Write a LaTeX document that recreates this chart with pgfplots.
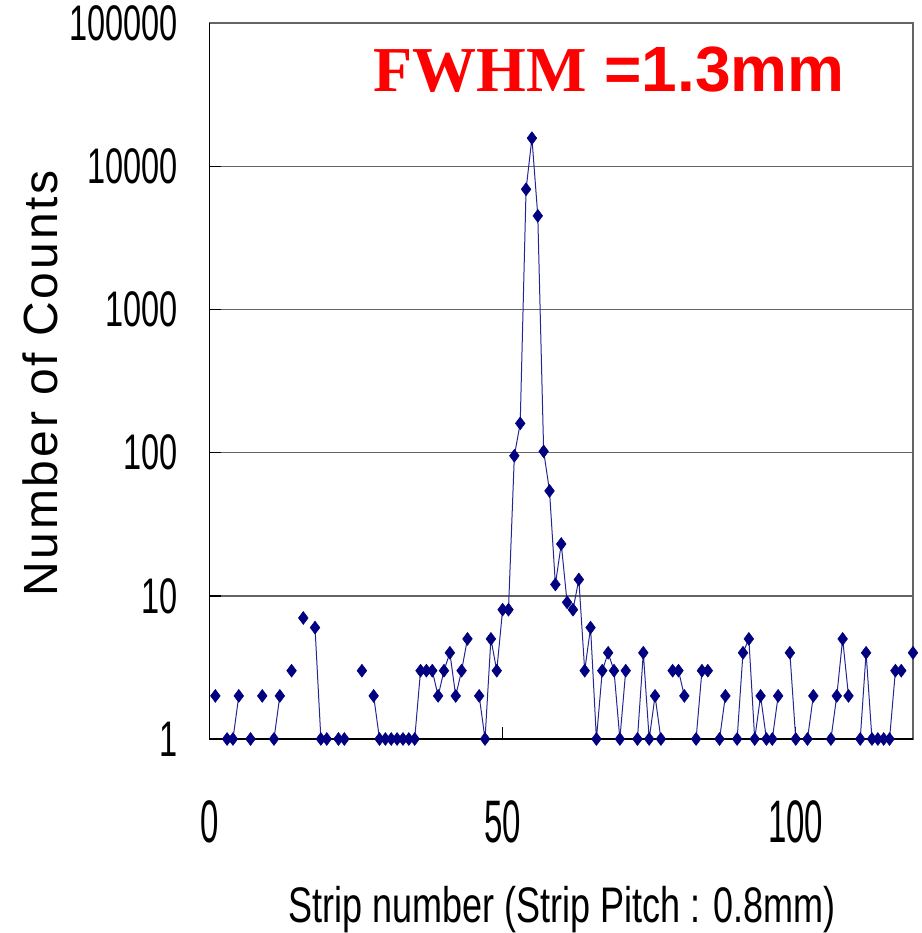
\documentclass[border=0pt]{standalone}
\usepackage{fontspec}
\setmainfont{Liberation Sans}
\newfontfamily\timesfont{Liberation Serif}
\newfontfamily\spacedfont[LetterSpace=6]{Liberation Sans}
\usepackage{graphicx}
\usepackage{pgfplots}
\pgfplotsset{compat=1.18}
\usepackage{pgfplotstable}
\definecolor{navy}{RGB}{0,0,128}
\definecolor{gridgray}{RGB}{100,100,100}
\definecolor{titlered}{RGB}{255,0,0}
\pgfplotstableread{
x y
0 0
1 2
2 0
3 1
4 1
5 2
6 0
7 1
8 0
9 2
10 0
11 1
12 2
13 0
14 3
15 0
16 7
17 0
18 6
19 1
20 1
21 0
22 1
23 1
24 0
25 0
26 3
27 0
28 2
29 1
30 1
31 1
32 1
33 1
34 1
35 1
36 3
37 3
38 3
39 2
40 3
41 4
42 2
43 3
44 5
45 0
46 2
47 1
48 5
49 3
50 8
51 8
52 95
53 160
54 6900
55 15700
56 4500
57 102
58 54
59 12
60 23
61 9
62 8
63 13
64 3
65 6
66 1
67 3
68 4
69 3
70 1
71 3
72 0
73 1
74 4
75 1
76 2
77 1
78 0
79 3
80 3
81 2
82 0
83 1
84 3
85 3
86 0
87 1
88 2
89 0
90 1
91 4
92 5
93 1
94 2
95 1
96 1
97 2
98 0
99 4
100 1
101 0
102 1
103 2
104 0
105 0
106 1
107 2
108 5
109 2
110 0
111 1
112 4
113 1
114 1
115 1
116 1
117 3
118 3
119 0
120 4
}\datatable
\begin{document}
\begin{tikzpicture}
\useasboundingbox (-104.75pt,-97pt) rectangle (356.25pt,369.5pt);
\begin{axis}[
  at={(0,0)}, anchor=south west,
  scale only axis, width=351.75pt, height=358pt,
  xmin=0, xmax=120,
  ymode=log, ymin=1, ymax=100000,
  xtick={0,50,100},
  xticklabels={{\scalebox{0.55}[1]{0}},{\scalebox{0.55}[1]{50}},{\scalebox{0.55}[1]{100}}},
  ytick={1,10,100,1000,10000,100000},
  yticklabels={{\scalebox{0.65}[1]{1}},{\scalebox{0.65}[1]{10}},{\scalebox{0.65}[1]{100}},{\scalebox{0.65}[1]{1000}},{\scalebox{0.65}[1]{10000}},{\scalebox{0.65}[1]{100000}}},
  yminorticks=false, xminorticks=false,
  ymajorgrids,
  grid style={gridgray, line width=0.7pt},
  axis line style={gridgray, line width=0.7pt},
  tick style={black, line width=0.7pt},
  tick align=inside, major tick length=6pt,
  tick pos=left,
  xticklabel style={anchor=north, inner sep=0pt, yshift=-30.5pt, font=\fontsize{30}{36}\selectfont},
  yticklabel style={anchor=east, inner sep=0pt, xshift=-15.75pt, font=\fontsize{25}{30}\selectfont},
  clip=false,
  unbounded coords=jump,
]
\addplot[color=navy!85!white, line width=0.5pt, mark=diamond*, mark size=3.2pt,
  mark options={solid, fill=navy, draw=navy, line width=0.3pt}]
  table[x=x, y=y] {\datatable};
\draw[black, line width=0.9pt] (rel axis cs:0,1) -- (rel axis cs:0,0) -- (rel axis cs:1,0);
\end{axis}
\node[rotate=90, anchor=base, inner sep=0pt, font=\fontsize{24}{29}\spacedfont] at (-75.75pt,177.75pt) {Number of Counts};
\node[anchor=base, inner sep=0pt, font=\fontsize{25}{30}\selectfont] at (176.25pt,-91.5pt) {\scalebox{0.72}[1]{Strip number (Strip Pitch : 0.8mm)}};
\node[anchor=base west, inner sep=0pt, text=titlered, font=\fontsize{32}{38}\selectfont\bfseries] at (81.75pt,323.65pt) {{\timesfont FWHM} =1.3mm};
\end{tikzpicture}
\end{document}
